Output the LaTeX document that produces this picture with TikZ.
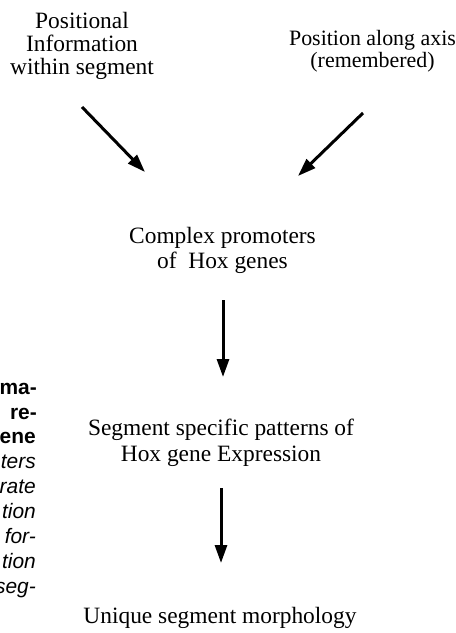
\documentclass[tikz,border=0pt]{standalone}
\usepackage{fontspec}
\setmainfont{Liberation Serif}
\newfontfamily\capfont{Liberation Sans}
\usetikzlibrary{arrows.meta}
\begin{document}
\begin{tikzpicture}[x=1bp,y=-1bp,
  lbl/.style={inner sep=0pt,anchor=base,font=\fontsize{23.5}{25}\selectfont},
  capb/.style={inner sep=0pt,anchor=base east,font=\capfont\bfseries\fontsize{21}{25}\selectfont},
  capi/.style={inner sep=0pt,anchor=base east,font=\capfont\itshape\fontsize{21}{25}\selectfont},
  arr/.style={line width=3bp,-{Triangle[length=18bp,width=12bp]}}]
\useasboundingbox (0,0) rectangle (456,633);
\node[lbl] (pi1) at (82,29) {Positional};
\node[lbl] (pi2) at (82,52) {Information};
\node[lbl] (pi3) at (82,75) {within segment};
\node[lbl,font=\fontsize{22}{25}\selectfont] (pa1) at (372.5,46) {Position along axis};
\node[lbl,font=\fontsize{22}{25}\selectfont] (pa2) at (372.5,68) {(remembered)};
\node[lbl] (cp1) at (222.5,243) {Complex promoters};
\node[lbl] (cp2) at (222.5,268) {of\ \ Hox genes};
\node[lbl] (ss1) at (221,435) {Segment specific patterns of};
\node[lbl] (ss2) at (221,461) {Hox gene Expression};
\node[lbl] (us) at (220,623) {Unique segment morphology};
\coordinate (a1s) at (82,107);
\coordinate (a1e) at (145,172);
\coordinate (a2s) at (363,113);
\coordinate (a2e) at (298,176);
\coordinate (a3s) at (223,300);
\coordinate (a3e) at (223,377);
\coordinate (a4s) at (221,488);
\coordinate (a4e) at (221,563);
\draw[arr] (a1s) -- (a1e);
\draw[arr] (a2s) -- (a2e);
\draw[arr] (a3s) -- (a3e);
\draw[arr] (a4s) -- (a4e);
\node[capb] (c1) at (37,394) {ma-};
\node[capb] (c2) at (37,419) {re-};
\node[capb] (c3) at (36,443) {ene};
\node[capi] (c4) at (36,468) {ters};
\node[capi] (c5) at (36,493) {rate};
\node[capi] (c6) at (36,518) {tion};
\node[capi] (c7) at (36,543) {for-};
\node[capi] (c8) at (36,568) {tion};
\node[capi] (c9) at (36,593) {seg-};
\end{tikzpicture}
\end{document}
